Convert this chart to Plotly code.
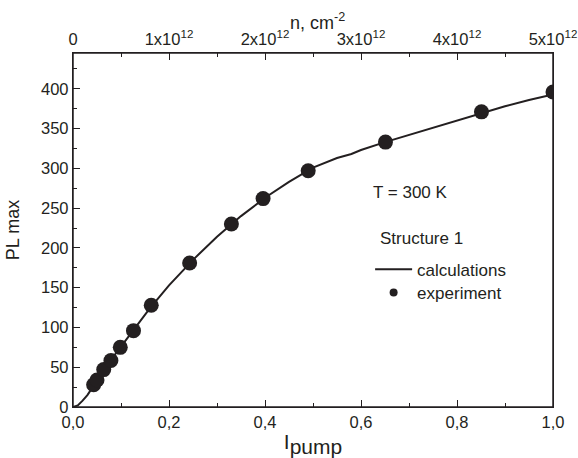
import plotly.graph_objects as go

# Experimental points (I_pump, PL max)
exp_x = [0.043, 0.050, 0.064, 0.079, 0.0985, 0.126, 0.163, 0.243, 0.330, 0.396, 0.490, 0.651, 0.851, 1.0]
exp_y = [28, 34, 47, 58.5, 75, 96, 128, 181, 230, 262, 297, 333, 371, 396]

# Calculated curve
calc_x = [0, 0.01, 0.02, 0.03, 0.04, 0.06, 0.08, 0.1, 0.13, 0.16, 0.2, 0.25, 0.3, 0.35,
          0.4, 0.45, 0.5, 0.55, 0.58, 0.6, 0.65, 0.7, 0.75, 0.8, 0.85, 0.9, 0.95, 1.0]
calc_y = [0, 2, 8, 15, 24, 42, 60, 76, 100, 124, 153, 185, 214, 240,
          263, 283, 301, 313, 318, 323, 333, 342, 351, 360, 369, 378, 386, 393]

# Tick labels
x_ticks = [0, 0.2, 0.4, 0.6, 0.8, 1.0]
x_ticktext = ["0,0", "0,2", "0,4", "0,6", "0,8", "1,0"]
n_ticks = [0, 1, 2, 3, 4, 5]
n_ticktext = ["0", "1x10<sup>12</sup>", "2x10<sup>12</sup>", "3x10<sup>12</sup>",
              "4x10<sup>12</sup>", "5x10<sup>12</sup>"]
y_ticks = [0, 50, 100, 150, 200, 250, 300, 350, 400]

INK = "#231f20"
FONT = "Liberation Sans, Arial, sans-serif"
TICKF = dict(family=FONT, size=16.5, color=INK)
TXTF = dict(family=FONT, size=17, color=INK)


def minor(dt):
    return dict(dtick=dt, ticks="inside", ticklen=4, tickcolor=INK, tickwidth=1.2)


base = dict(showline=True, linecolor=INK, linewidth=1.4, showgrid=False, zeroline=False,
            ticks="inside", tickcolor=INK, tickwidth=1.2, ticklen=7, tickfont=TICKF,
            automargin=False)

fig = go.Figure()
fig.add_trace(go.Scatter(x=calc_x, y=calc_y, mode="lines", line=dict(color=INK, width=2),
                         showlegend=False))
fig.add_trace(go.Scatter(x=exp_x, y=exp_y, mode="markers",
                         marker=dict(color=INK, size=15), showlegend=False))
# legend entries
fig.add_trace(go.Scatter(x=[None], y=[None], mode="lines", name="calculations",
                         line=dict(color=INK, width=2), legend="legend"))
fig.add_trace(go.Scatter(x=[None], y=[None], mode="markers", name="experiment",
                         marker=dict(color=INK, size=8), legend="legend2"))
# top axis (carrier density)
fig.add_trace(go.Scatter(x=[0, 5], y=[None, None], xaxis="x2", yaxis="y",
                         showlegend=False, hoverinfo="skip"))

leg = dict(xanchor="left", yanchor="middle", bgcolor="rgba(0,0,0,0)", font=TXTF, itemwidth=37)

fig.update_layout(
    width=578, height=458,
    margin=dict(l=73, r=25, t=53, b=51),
    paper_bgcolor="white", plot_bgcolor="white",
    font=dict(family=FONT, color=INK),
    xaxis=dict(range=[0, 1.0], tickvals=x_ticks, ticktext=x_ticktext, minor=minor(0.1),
               title=dict(text="I<sub><span style='font-size:21px'>pump</span></sub>",
                          font=dict(size=21, family=FONT, color=INK), standoff=4),
               **base),
    xaxis2=dict(range=[0, 5], overlaying="x", side="top", tickvals=n_ticks, ticktext=n_ticktext,
                minor=minor(0.5), **base),
    yaxis=dict(range=[0, 445], tickvals=y_ticks, minor=minor(25), mirror=True,
               title=dict(text="PL max", font=dict(size=18, family=FONT, color=INK), standoff=16),
               **base),
    legend=dict(x=0.619, y=0.388, **leg),
    legend2=dict(x=0.619, y=0.322, **leg),
    shapes=[dict(type="rect", xref="paper", yref="paper", x0=0, x1=1, y0=0, y1=1,
                 line=dict(color=INK, width=1.5), fillcolor="rgba(0,0,0,0)", layer="above")],
    annotations=[
        dict(text="n, cm<sup>-2</sup>", x=0.51, y=1.05, xref="paper", yref="paper",
             showarrow=False, xanchor="center", yanchor="bottom",
             font=dict(size=18, family=FONT, color=INK)),
        dict(text="T = 300 K", x=0.62, y=0.606, xref="paper", yref="paper", showarrow=False,
             xanchor="left", yanchor="middle", font=TXTF),
        dict(text="Structure 1", x=0.635, y=0.475, xref="paper", yref="paper", showarrow=False,
             xanchor="left", yanchor="middle", font=TXTF),
    ],
)

fig.write_html("out.html")
